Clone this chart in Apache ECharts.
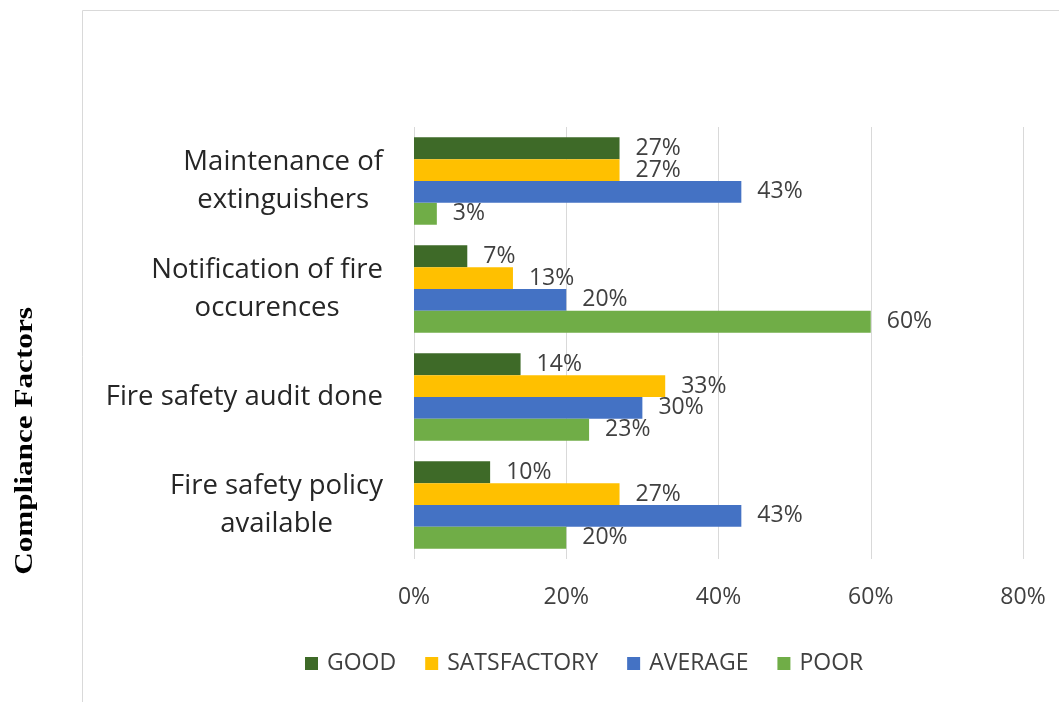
<!DOCTYPE html>
<html>
<head>
<meta charset="utf-8">
<script src="https://cdn.jsdelivr.net/npm/echarts@6/dist/echarts.min.js"></script>
<style>html,body{margin:0;padding:0;background:#fff;}#chart{width:1059px;height:702px;}</style>
</head>
<body>
<div id="chart"></div>
<script>
const categories = ['Maintenance of\nextinguishers', 'Notification of fire\noccurences', 'Fire safety audit done', 'Fire safety policy\navailable'];
const seriesNames = ['GOOD', 'SATSFACTORY', 'AVERAGE', 'POOR'];
const good = [27, 7, 14, 10];
const satisfactory = [27, 13, 33, 27];
const average = [43, 20, 30, 43];
const poor = [3, 60, 23, 20];
const xTicks = [0, 20, 40, 60, 80];
const colors = ['#3e6a28', '#ffc000', '#4472c4', '#70ad47'];
const seriesData = [good, satisfactory, average, poor];

const chart = echarts.init(document.getElementById('chart'));
const font = 'Open Sans';
chart.setOption({
  animation: false,
  color: colors,
  graphic: [
    { type: 'rect', shape: { x: 82.5, y: 10.5, width: 1000, height: 700 }, style: { fill: 'none', stroke: '#d9d9d9', lineWidth: 1 }, silent: true },
    { type: 'text', x: 25, y: 441, rotation: Math.PI / 2, scaleX: 1.2, style: { text: 'Compliance Factors', font: 'bold 26px "Liberation Serif"', fill: '#000', textAlign: 'center', textVerticalAlign: 'middle' } }
  ],
  legend: {
    data: seriesNames,
    bottom: 22,
    left: 300,
    itemWidth: 13, itemHeight: 13, itemGap: 29,
    icon: 'rect',
    textStyle: { fontFamily: font, fontSize: 23, color: '#404040', padding: [0, 0, 0, 4] }
  },
  grid: { left: 414, right: 36, top: 127, bottom: 143, containLabel: false },
  xAxis: {
    type: 'value', min: xTicks[0], max: xTicks[xTicks.length - 1], interval: 20,
    axisLine: { show: false }, axisTick: { show: false },
    splitLine: { lineStyle: { color: '#d9d9d9', width: 1 } },
    axisLabel: { formatter: '{value}%', fontFamily: font, fontSize: 23, color: '#404040', margin: 27 }
  },
  yAxis: {
    type: 'category', data: categories, inverse: true,
    axisLine: { show: false }, axisTick: { show: false },
    axisLabel: {
      margin: 31,
      formatter: v => v.split('\n').map(l => '{c|' + l + '}').join('\n'),
      rich: { c: { align: 'center', fontFamily: font, fontSize: 27.5, lineHeight: 38, color: '#262626' } }
    }
  },
  series: seriesNames.map((n, i) => ({
    name: n, type: 'bar', data: seriesData[i],
    barGap: '0%', barCategoryGap: '19%',
    itemStyle: { color: colors[i] },
    label: { show: true, position: 'right', distance: 16, formatter: '{c}%', fontFamily: font, fontSize: 23, color: '#404040' }
  }))
});
</script>
</body>
</html>
